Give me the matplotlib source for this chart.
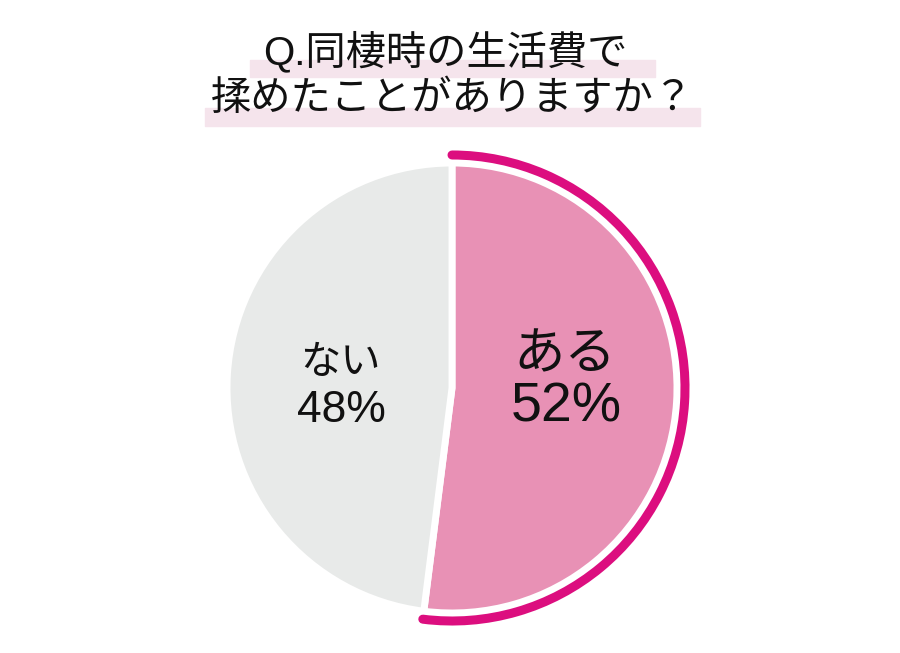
import matplotlib
matplotlib.use('Agg')
import matplotlib.pyplot as plt
from matplotlib.patches import Arc, Rectangle

plt.rcParams['font.family'] = ['Liberation Sans', 'Noto Sans CJK JP', 'DejaVu Sans']

# データ
labels = ['ある', 'ない']
values = [52, 48]
colors = ['#E891B5', '#E8EAE9']
title_lines = ['Q.同棲時の生活費で', '揉めたことがありますか？']

W, H = 900, 653
fig = plt.figure(figsize=(9, 6.53), dpi=100)
ax = fig.add_axes([0, 0, 1, 1])

def Y(y):
    # 画像の上からのピクセル位置を座標に変換
    return H - y

cx, cy, r = 452, Y(388), 225

# タイトルの下のマーカー
ax.add_patch(Rectangle((250, Y(77)), 405, 17, color='#F5E4EC', zorder=1))
ax.add_patch(Rectangle((205, Y(126)), 495, 18, color='#F5E4EC', zorder=1))
ax.text(445, Y(52), title_lines[0], ha='center', va='center', fontsize=29, color='#111111', zorder=2)
ax.text(452, Y(99), title_lines[1], ha='center', va='center', fontsize=29, color='#111111', zorder=2)

# 円グラフ
ax.pie(values, colors=colors, startangle=90, counterclock=False,
       center=(cx, cy), radius=r, frame=True,
       wedgeprops=dict(edgecolor='white', linewidth=5))
ax.set_xlim(0, W)
ax.set_ylim(0, H)
ax.set_aspect('equal')
ax.axis('off')

# 「ある」の外側の線
a_end = 90 - values[0] / sum(values) * 360
arc = Arc((cx, cy), 2 * 233, 2 * 233, theta1=a_end, theta2=90,
          color='#DC0E7F', linewidth=6.5, capstyle='round', zorder=3)
ax.add_patch(arc)

# ラベル
ax.text(565, Y(356), labels[0], ha='center', va='center', fontsize=37, color='#111111')
ax.text(566, Y(407), f'{values[0]}%', ha='center', va='center', fontsize=40, color='#111111')
ax.text(340, Y(363), labels[1], ha='center', va='center', fontsize=29, color='#111111')
ax.text(341, Y(411), f'{values[1]}%', ha='center', va='center', fontsize=32, color='#111111')

plt.savefig('out.png', dpi=100)
